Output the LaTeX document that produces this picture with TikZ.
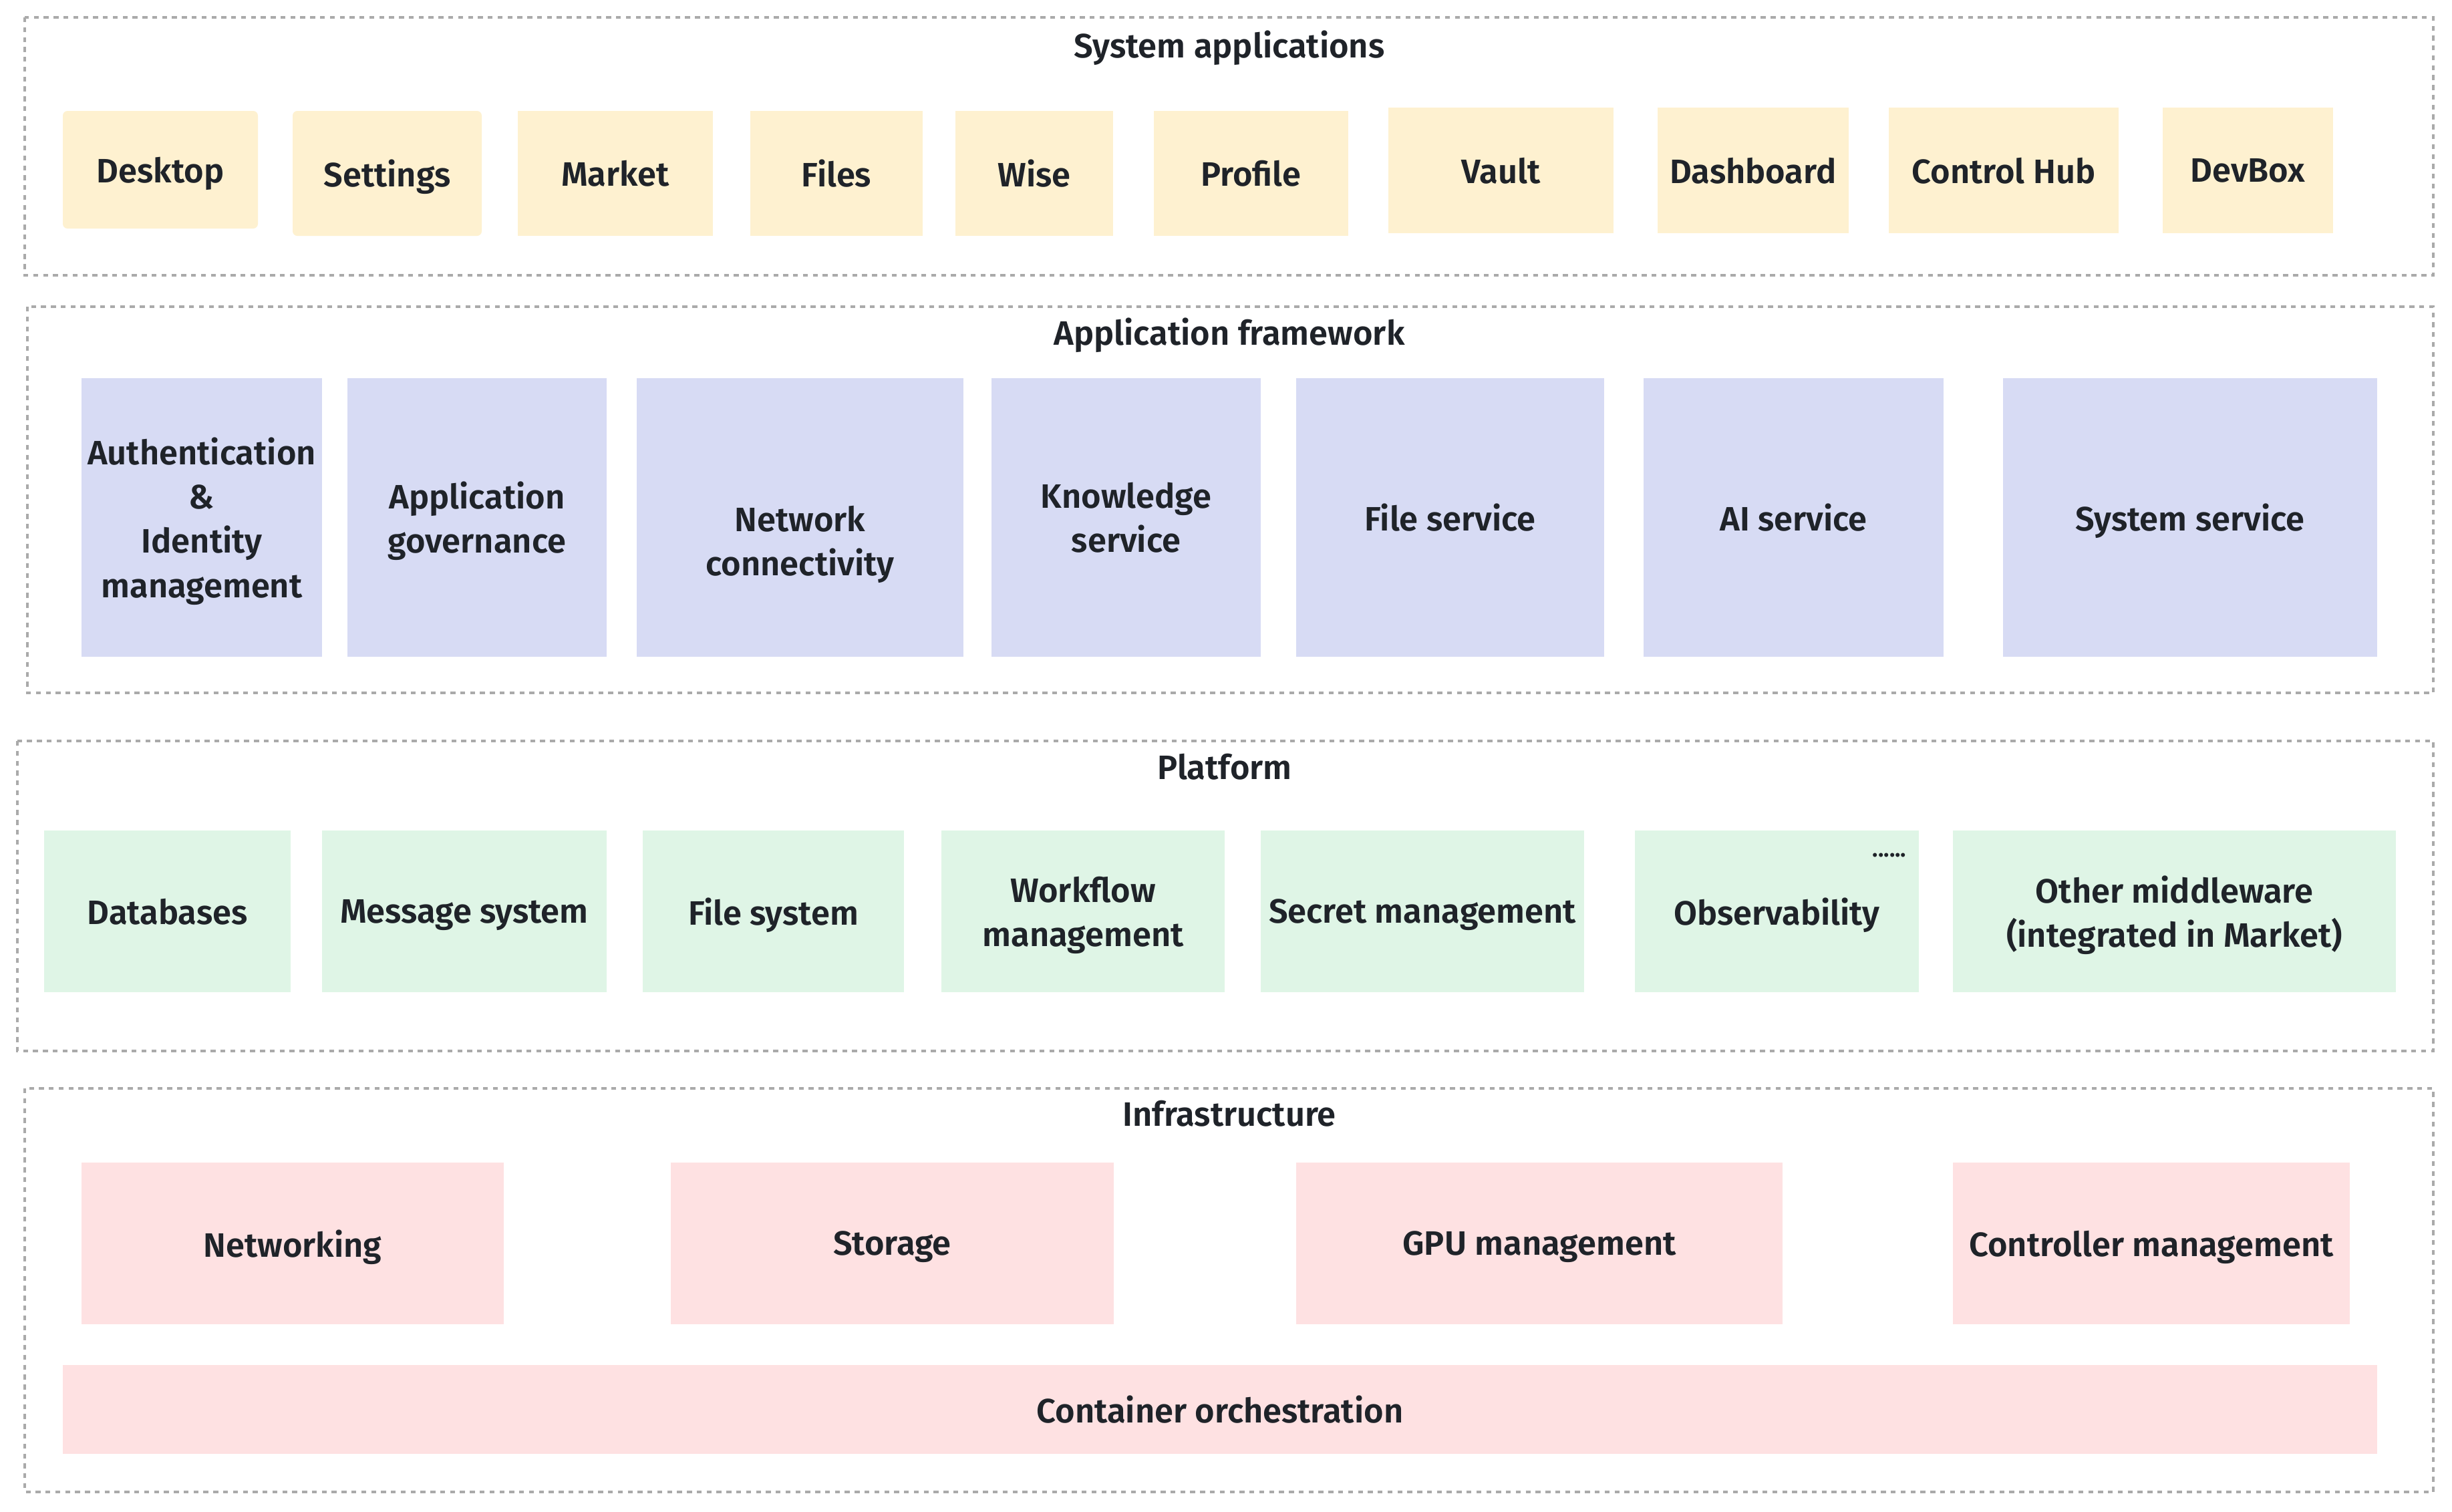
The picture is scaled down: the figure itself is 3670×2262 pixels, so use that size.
\documentclass[tikz,border=0pt]{standalone}
\usepackage{fontspec}
\setmainfont{Fira Sans}[BoldFont={Fira Sans SemiBold}]
\definecolor{txt}{HTML}{1F2329}
\definecolor{framegray}{HTML}{AAAAAA}
\definecolor{yel}{HTML}{FEF1D0}
\definecolor{blu}{HTML}{D7DBF4}
\definecolor{grn}{HTML}{DFF5E6}
\definecolor{pnk}{HTML}{FEE1E2}
\newcommand\lblfont{\fontsize{14.4pt}{18.8pt}\selectfont\bfseries}
\tikzset{
  frame/.style={draw=framegray, line width=1.3pt, dash pattern=on 2.1pt off 2.1pt},
  ttl/.style={text=txt, font=\lblfont, inner sep=0, text depth=0pt},
  sz/.style 2 args={minimum width={#1*0.01cm}, minimum height={#2*0.01cm}},
  box/.style={inner sep=0, align=center, text=txt, font=\lblfont, draw=none, text depth=0pt},
  ybox/.style={box, fill=yel},
  bbox/.style={box, fill=blu},
  gbox/.style={box, fill=grn},
  pbox/.style={box, fill=pnk},
}
\begin{document}
\begin{tikzpicture}[x=0.01cm, y=-0.01cm]
\useasboundingbox (0,0) rectangle (3670,2262);
\fill[white] (0,0) rectangle (3670,2262);

% ---------- System applications ----------
\draw[frame] (37,26) rectangle (3642,412);
\node[ttl] (t1) at (1840,66) {System applications};
\node[ybox, sz={292}{176}, rounded corners=2pt] (desktop) at (240,254) {Desktop};
\node[ybox, sz={283}{187}, rounded corners=2pt] (settings) at (579.5,259.5) {Settings};
\node[ybox, sz={292}{187}] (market) at (921,259.5) {Market};
\node[ybox, sz={258}{187}] (files) at (1252,259.5) {Files};
\node[ybox, sz={236}{187}] (wise) at (1548,259.5) {Wise};
\node[ybox, sz={291}{187}] (profile) at (1872.5,259.5) {Profile};
\node[ybox, sz={337}{188}] (vault) at (2246.5,255) {Vault};
\node[ybox, sz={286}{188}] (dashboard) at (2624,255) {Dashboard};
\node[ybox, sz={344}{188}] (controlhub) at (2999,255) {Control Hub};
\node[ybox, sz={255}{188}] (devbox) at (3364.5,255) {DevBox};

% ---------- Application framework ----------
\draw[frame] (41,459) rectangle (3642,1037);
\node[ttl] (t2) at (1840,496) {Application framework};
\node[bbox, sz={360}{417}] (auth) at (302,774.5) {Authentication\\\&\\Identity\\management};
\node[bbox, sz={388}{417}] (appgov) at (714,774.5) {Application\\governance};
\node[bbox, sz={489}{417}] (netconn) at (1197.5,774.5) {};
\node[box] (netconnlbl) at ([yshift=-0.35cm]netconn.center) {Network\\connectivity};
\node[bbox, sz={403}{417}] (knowledge) at (1685.5,774.5) {Knowledge\\service};
\node[bbox, sz={461}{417}] (fileservice) at (2170.5,774.5) {File service};
\node[bbox, sz={449}{417}] (aiservice) at (2684.5,774.5) {AI service};
\node[bbox, sz={560}{417}] (sysservice) at (3278,774.5) {System service};

% ---------- Platform ----------
\draw[frame] (26,1109) rectangle (3642,1573);
\node[ttl] (t3) at (1833,1147) {Platform};
\node[gbox, sz={369}{242}] (db) at (250.5,1364) {Databases};
\node[gbox, sz={426}{242}] (msg) at (695,1364) {Message system};
\node[gbox, sz={391}{242}] (fs) at (1157.5,1364) {File system};
\node[gbox, sz={424}{242}] (wf) at (1621,1364) {Workflow\\management};
\node[gbox, sz={484}{242}] (secret) at (2129,1364) {Secret management};
\node[gbox, sz={425}{242}] (obs) at (2659.5,1364) {Observability};
\node[text=txt, inner sep=0, font=\fontsize{10pt}{12pt}\selectfont\bfseries] (obsdots) at (2828,1280) {......};
\node[gbox, sz={663}{242}] (other) at (3254.5,1364) {Other middleware\\(integrated in Market)};

% ---------- Infrastructure ----------
\draw[frame] (37,1629) rectangle (3642,2233);
\node[ttl] (t4) at (1840,1666) {Infrastructure};
\node[pbox, sz={632}{242}] (networking) at (438,1861) {Networking};
\node[pbox, sz={663}{242}] (storage) at (1335.5,1861) {Storage};
\node[pbox, sz={728}{242}] (gpu) at (2304,1861) {GPU management};
\node[pbox, sz={594}{242}] (controller) at (3220,1861) {Controller management};
\node[pbox, sz={3464}{133}] (container) at (1826,2109.5) {Container orchestration};
\end{tikzpicture}
\end{document}
